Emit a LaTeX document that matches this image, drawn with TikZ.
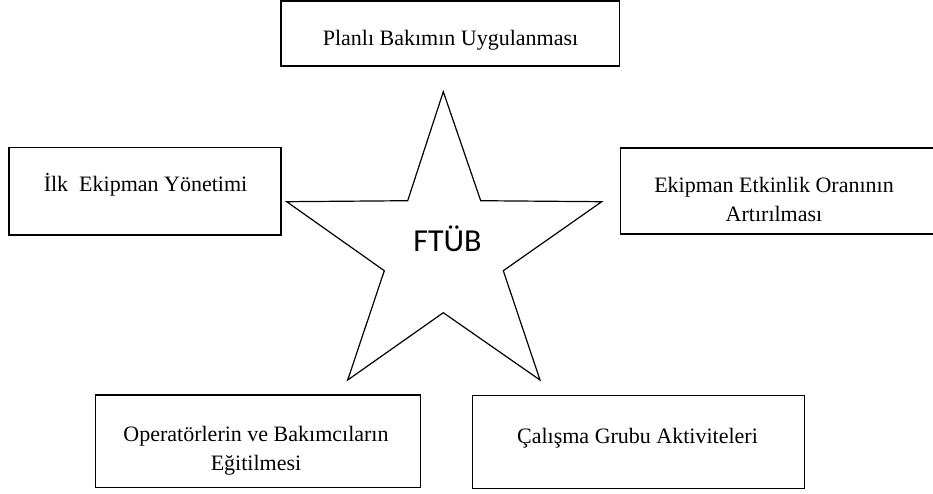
\documentclass[tikz,border=0pt]{standalone}
\usepackage{fontspec}
\setmainfont{Liberation Serif}
\newfontfamily\calibri{Carlito}
\begin{document}
\begin{tikzpicture}[x=1pt,y=-1pt,
  box/.style={draw, line width=1.5pt, inner sep=0pt, rectangle},
  lbl/.style={font=\fontsize{22}{28.5}\selectfont, align=center, inner sep=0pt, anchor=base},
  starline/.style={draw, line width=1.2pt, line join=miter}]
\useasboundingbox (0,0) rectangle (933,493);
% boxes
\node[box, minimum width=338.3pt, minimum height=65pt] (topbox) at (450.2,33.5) {};
\node[box, minimum width=272pt, minimum height=87.7pt] (leftbox) at (145,191.2) {};
\node[box, minimum width=320pt, minimum height=86pt] (rightbox) at (780.7,191) {};
\node[box, minimum width=325pt, minimum height=92.3pt] (blbox) at (258.2,441.2) {};
\node[box, minimum width=332pt, minimum height=92.6pt] (brbox) at (638.3,442) {};
% labels
\node[lbl] (toptxt) at (450.5,45) {Planlı Bakımın Uygulanması};
\node[lbl] (lefttxt) at (145.5,191.7) {İlk~ Ekipman Yönetimi};
\node[lbl] (righttxt) at (774,221) {Ekipman Etkinlik Oranının\\Artırılması};
\node[lbl] (bltxt) at (256,470) {Operatörlerin ve Bakımcıların\\Eğitilmesi};
\node[lbl] (brtxt) at (637.5,443.3) {Çalışma Grubu Aktiviteleri};
% star
\draw[starline] (443.3,91.7) -- (480.7,200.7) -- (601.7,201.7) -- (503.3,270.7)
  -- (540,380) -- (443.3,312.7) -- (347.7,380) -- (384.3,270.7)
  -- (286.7,201.7) -- (407.7,200.7) -- cycle;
\node[font=\calibri\fontsize{32}{36}\selectfont, inner sep=0pt, anchor=base] (ftub) at (447.5,251.7) {FTÜB};
\end{tikzpicture}
\end{document}
